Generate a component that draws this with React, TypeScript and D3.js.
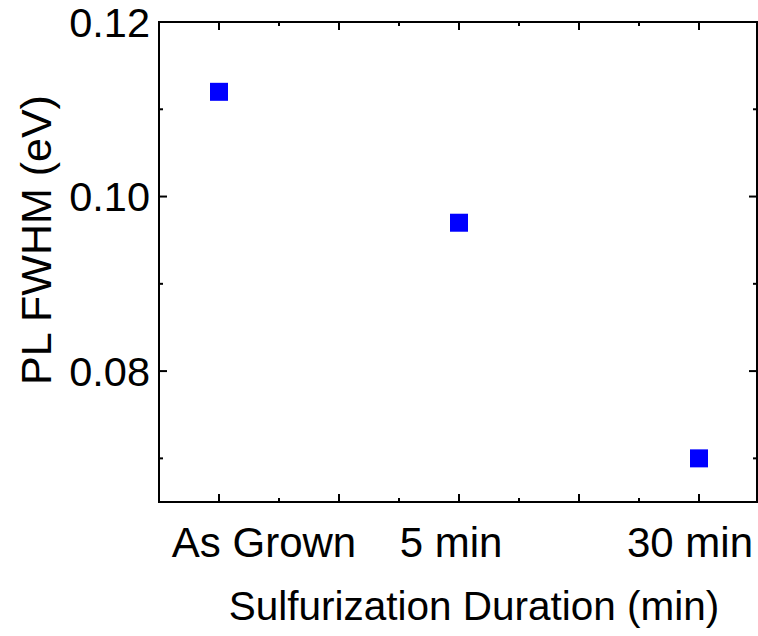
import React from "react";
import * as d3 from "d3";

// Sample labels and their positions on the x axis
const categories = ["As Grown", "5 min", "30 min"];
const categoryPositions = [1, 3, 5];
// PL FWHM values (eV)
const fwhmValues = [0.112, 0.097, 0.07];

// Axis ticks
const xMajorTicks = [1, 2, 3, 4, 5];
const xMinorTicks = [1.5, 2.5, 3.5, 4.5];
const yMajorTicks = [0.08, 0.1, 0.12];
const yTickLabels = ["0.08", "0.10", "0.12"];
const yMinorTicks = [0.07, 0.09, 0.11];

const xTitle = "Sulfurization Duration (min)";
const yTitle = "PL FWHM (eV)";

const W = 758;
const H = 636;
const left = 159;
const right = 759;
const top = 22;
const bottom = 502;

// Horizontal nudges for the category labels
const labelShift = [45, -8, -9];

export default function App() {
  const x = d3.scaleLinear().domain([0.5, 5.5]).range([left, right]);
  const y = d3.scaleLinear().domain([0.065, 0.12]).range([bottom, top]);
  const font = "'Liberation Sans', Arial, sans-serif";
  const major = 8;
  const minor = 4;
  const sw = 2;
  const marker = 18;

  return (
    <svg
      width={W}
      height={H}
      style={{ position: "absolute", left: 0, top: 0, background: "#fff" }}
      fontFamily={font}
    >
      <rect x={0} y={0} width={W} height={H} fill="#fff" />
      {/* ticks on all four sides, pointing inward */}
      <g stroke="#000" strokeWidth={sw}>
        {xMajorTicks.map((t) => (
          <g key={"xm" + t}>
            <line x1={x(t)} x2={x(t)} y1={bottom} y2={bottom - major} />
            <line x1={x(t)} x2={x(t)} y1={top} y2={top + major} />
          </g>
        ))}
        {xMinorTicks.map((t) => (
          <g key={"xn" + t}>
            <line x1={x(t)} x2={x(t)} y1={bottom} y2={bottom - minor} />
            <line x1={x(t)} x2={x(t)} y1={top} y2={top + minor} />
          </g>
        ))}
        {yMajorTicks.map((t) => (
          <g key={"ym" + t}>
            <line x1={left} x2={left + major} y1={y(t)} y2={y(t)} />
            <line x1={right - 2} x2={right - 2 - major} y1={y(t)} y2={y(t)} />
          </g>
        ))}
        {yMinorTicks.map((t) => (
          <g key={"yn" + t}>
            <line x1={left} x2={left + minor} y1={y(t)} y2={y(t)} />
            <line x1={right - 2} x2={right - 2 - minor} y1={y(t)} y2={y(t)} />
          </g>
        ))}
      </g>
      {/* plot frame */}
      <rect
        x={left}
        y={top}
        width={right - 2 - left}
        height={bottom - top}
        fill="none"
        stroke="#000"
        strokeWidth={sw}
      />
      {/* data markers */}
      {fwhmValues.map((v, i) => (
        <rect
          key={"p" + i}
          x={x(categoryPositions[i]) - marker / 2}
          y={y(v) - marker / 2}
          width={marker}
          height={marker}
          fill="#0000ff"
        />
      ))}
      {/* y tick labels */}
      {yMajorTicks.map((t, i) => (
        <text key={"yl" + t} x={150} y={y(t) + 14.5} textAnchor="end" fontSize={41.5} fill="#000">
          {yTickLabels[i]}
        </text>
      ))}
      {/* x category labels */}
      {categories.map((c, i) => (
        <text
          key={"xl" + c}
          x={x(categoryPositions[i]) + labelShift[i]}
          y={557}
          textAnchor="middle"
          fontSize={42}
          fill="#000"
        >
          {c}
        </text>
      ))}
      <text x={474} y={620} textAnchor="middle" fontSize={40.5} fill="#000">
        {xTitle}
      </text>
      <text
        transform={`translate(51,240) rotate(-90)`}
        textAnchor="middle"
        fontSize={43}
        fill="#000"
      >
        {yTitle}
      </text>
    </svg>
  );
}
